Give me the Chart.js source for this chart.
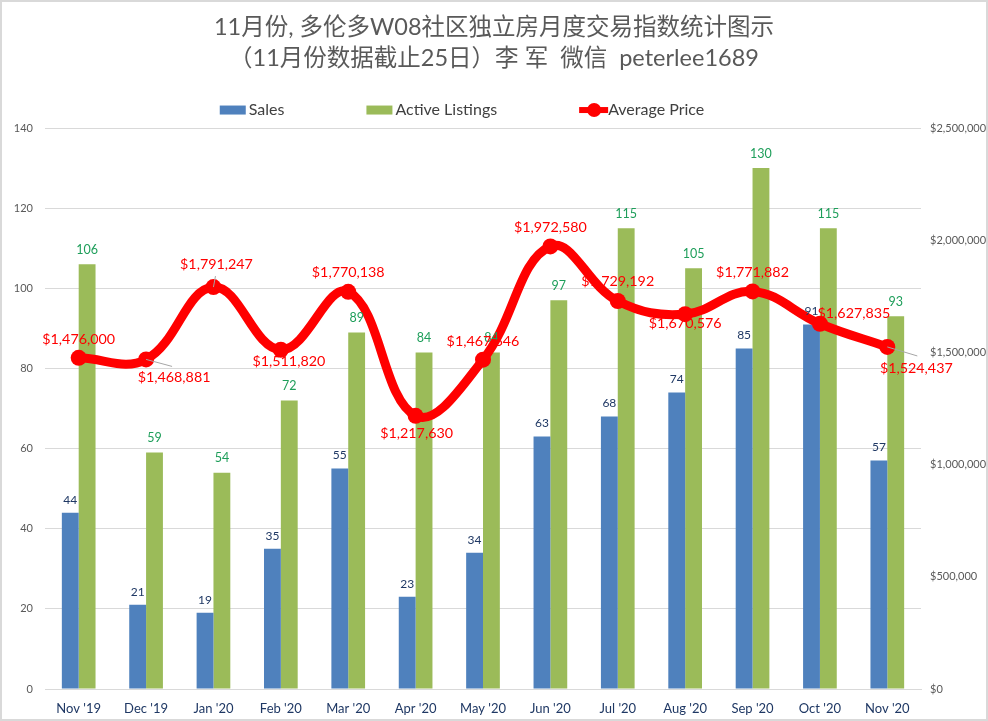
<!DOCTYPE html>
<html>
<head>
<meta charset="utf-8">
<script src="https://cdn.jsdelivr.net/npm/chart.js@4"></script>
<style>
  html, body { margin: 0; background: #fff; }
  canvas { display: block; }
</style>
</head>
<body>
<canvas id="chart" width="988" height="721"></canvas>
<script>
const categories = ["Nov '19", "Dec '19", "Jan '20", "Feb '20", "Mar '20", "Apr '20", "May '20", "Jun '20", "Jul '20", "Aug '20", "Sep '20", "Oct '20", "Nov '20"];
const sales = [44, 21, 19, 35, 55, 23, 34, 63, 68, 74, 85, 91, 57];
const activeListings = [106, 59, 54, 72, 89, 84, 84, 97, 115, 105, 130, 115, 93];
const averagePrice = [1476000, 1468881, 1791247, 1511820, 1770138, 1217630, 1467646, 1972580, 1729192, 1670576, 1771882, 1627835, 1524437];
const titleLines = ['11月份, 多伦多W08社区独立房月度交易指数统计图示', '（11月份数据截止25日）李 军  微信  peterlee1689'];

const FONT = 'Lato, "Noto Sans CJK SC", sans-serif';
const GREY = '#595959';
const RED = '#ff0000';
const BLUE = '#4f81bd';
const GREEN = '#9bbb59';

// where each price label sits relative to its point, and which ones get a leader line
const priceOffsets = [[0, -18], [28, 18], [3, -23], [8, 12], [0, -19], [1, 18], [0, -18], [0, -19], [0, -20], [0, 9], [0, -19], [34, -10], [29, 21]];
const leaders = { 1: [26, 7], 2: [2, -11], 12: [30, 9] };
const LEGEND_SHIFT = 32;

const labelsPlugin = {
  id: 'valueLabels',
  afterLayout(chart) {
    // legend sits left of the centre in the original
    chart.legend.right = chart.width - LEGEND_SHIFT * 2;
    chart.legend.legendHitBoxes.forEach(box => { box.left -= LEGEND_SHIFT; });
  },
  afterDatasetsDraw(chart) {
    const ctx = chart.ctx;
    ctx.save();
    ctx.textAlign = 'center';
    ctx.textBaseline = 'bottom';

    ctx.font = '12px ' + FONT;
    ctx.fillStyle = '#1f3864';
    chart.getDatasetMeta(1).data.forEach((bar, i) => {
      ctx.fillText(sales[i], bar.x, bar.y - 7);
    });
    ctx.font = '12.5px ' + FONT;
    ctx.fillStyle = '#1e9e5a';
    chart.getDatasetMeta(2).data.forEach((bar, i) => {
      ctx.fillText(activeListings[i], bar.x, bar.y - 8);
    });

    const points = chart.getDatasetMeta(0).data;
    ctx.strokeStyle = '#a6a6a6';
    ctx.lineWidth = 1;
    Object.keys(leaders).forEach(i => {
      ctx.beginPath();
      ctx.moveTo(points[i].x, points[i].y);
      ctx.lineTo(points[i].x + leaders[i][0], points[i].y + leaders[i][1]);
      ctx.stroke();
    });

    ctx.font = '14.3px ' + FONT;
    ctx.fillStyle = RED;
    ctx.textBaseline = 'middle';
    points.forEach((pt, i) => {
      const text = '$' + averagePrice[i].toLocaleString('en-US');
      ctx.fillText(text, pt.x + priceOffsets[i][0], pt.y + priceOffsets[i][1]);
    });

    // legend swatches, drawn here so the text can sit close to them
    const boxes = chart.legend.legendHitBoxes;
    [BLUE, GREEN].forEach((colour, i) => {
      ctx.fillStyle = colour;
      ctx.fillRect(boxes[i].left, boxes[i].top + boxes[i].height / 2 - 4.5, 26, 9);
    });
    const midY = boxes[2].top + boxes[2].height / 2;
    ctx.strokeStyle = RED;
    ctx.lineWidth = 6;
    ctx.beginPath();
    ctx.moveTo(boxes[2].left, midY);
    ctx.lineTo(boxes[2].left + 29, midY);
    ctx.stroke();
    ctx.fillStyle = RED;
    ctx.beginPath();
    ctx.arc(boxes[2].left + 15, midY, 7, 0, Math.PI * 2);
    ctx.fill();

    // outer frame of the picture
    ctx.strokeStyle = '#d9d9d9';
    ctx.lineWidth = 2;
    ctx.strokeRect(1, 1, chart.width - 2, chart.height - 2);
    ctx.restore();
  }
};

new Chart(document.getElementById('chart').getContext('2d'), {
  type: 'bar',
  data: {
    labels: categories,
    datasets: [
      {
        type: 'line',
        label: 'Average Price',
        data: averagePrice,
        yAxisID: 'yPrice',
        borderColor: RED,
        backgroundColor: RED,
        borderWidth: 9,
        tension: 0.4,
        pointRadius: 8,
        pointBackgroundColor: RED,
        pointBorderWidth: 0,
        order: 0
      },
      {
        label: 'Sales',
        data: sales,
        yAxisID: 'y',
        backgroundColor: BLUE,
        categoryPercentage: 0.5,
        barPercentage: 1,
        order: 1
      },
      {
        label: 'Active Listings',
        data: activeListings,
        yAxisID: 'y',
        backgroundColor: GREEN,
        categoryPercentage: 0.5,
        barPercentage: 1,
        order: 1
      }
    ]
  },
  options: {
    responsive: false,
    animation: false,
    layout: { padding: { top: 12, left: 0, right: 0, bottom: 0 } },
    plugins: {
      title: {
        display: true,
        text: titleLines,
        color: GREY,
        font: { family: FONT, size: 23.5, weight: 'normal', lineHeight: 1.32 },
        padding: { top: 0, bottom: -54 }
      },
      legend: {
        display: true,
        position: 'top',
        labels: {
          color: '#404040',
          font: { family: FONT, size: 16 },
          boxWidth: 21,
          boxHeight: 9,
          padding: 82,
          sort: (a, b) => (a.datasetIndex === 0 ? 1 : 0) - (b.datasetIndex === 0 ? 1 : 0),
          generateLabels(chart) {
            return Chart.defaults.plugins.legend.labels.generateLabels(chart).map(item => {
              item.fillStyle = 'rgba(0,0,0,0)';
              item.strokeStyle = 'rgba(0,0,0,0)';
              return item;
            });
          }
        }
      },
      tooltip: { enabled: false }
    },
    scales: {
      x: {
        afterFit(scale) { scale.height = 32; },
        grid: { display: false, drawTicks: false },
        border: { color: '#d9d9d9' },
        ticks: { color: '#1f3864', font: { family: FONT, size: 13 }, padding: 12, maxRotation: 0, autoSkip: false }
      },
      y: {
        position: 'left',
        min: 0,
        max: 140,
        afterFit(scale) { scale.width = 45; },
        grid: { color: '#d9d9d9', drawTicks: false },
        border: { display: false },
        ticks: { stepSize: 20, color: GREY, font: { family: FONT, size: 11 }, padding: 12 }
      },
      yPrice: {
        position: 'right',
        min: 0,
        max: 2500000,
        afterFit(scale) { scale.width = 67; },
        grid: { display: false, drawTicks: false },
        border: { display: false },
        ticks: {
          stepSize: 500000,
          color: GREY,
          font: { family: FONT, size: 11 },
          padding: 9,
          callback: value => '$' + value.toLocaleString('en-US')
        }
      }
    }
  },
  plugins: [labelsPlugin]
});
</script>
</body>
</html>
